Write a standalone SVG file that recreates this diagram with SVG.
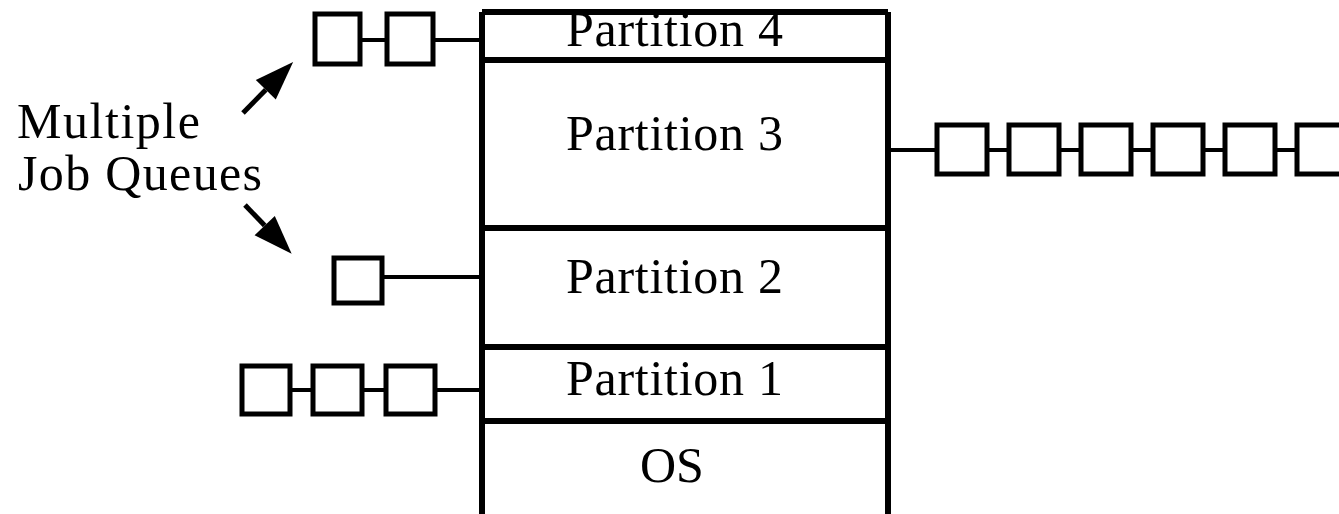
<svg xmlns="http://www.w3.org/2000/svg" width="1339" height="514" viewBox="0 0 1339 514">
<style>
.t{font-family:"Liberation Serif","DejaVu Serif",serif;font-size:50px;fill:#000}
.b{fill:#fff;stroke:#000;stroke-width:5}
.w{stroke:#000;stroke-width:6;fill:none}
.c{stroke:#000;stroke-width:4;fill:none}
.a{stroke:#000;stroke-width:5;fill:none}
</style>
<defs>
<marker id="ah" markerWidth="8" markerHeight="6" refX="0" refY="2.8" orient="auto" markerUnits="strokeWidth" overflow="visible">
<path d="M0,0 L7.8,2.8 L0,5.6 Z" fill="#000"/>
</marker>
</defs>
<rect width="1339" height="514" fill="#fff"/>
<g id="memory">
<path class="w" d="M482,12 H888 M482,12 V514 M888,12 V514 M482,60 H888 M482,228 H888 M482,347 H888 M482,421 H888"/>
</g>
<g id="partition4"><text class="t" x="566" y="46" textLength="217" lengthAdjust="spacing">Partition 4</text></g>
<g id="partition3"><text class="t" x="566" y="150" textLength="217" lengthAdjust="spacing">Partition 3</text></g>
<g id="partition2"><text class="t" x="566" y="293" textLength="217" lengthAdjust="spacing">Partition 2</text></g>
<g id="partition1"><text class="t" x="566" y="395" textLength="217" lengthAdjust="spacing">Partition 1</text></g>
<g id="os"><text class="t" x="640" y="482">OS</text></g>
<g id="label">
<text class="t" x="17" y="138" textLength="183" lengthAdjust="spacing">Multiple</text>
<text class="t" x="18" y="190" textLength="244" lengthAdjust="spacing">Job Queues</text>
</g>
<g id="connectors">
<line class="c" x1="360" y1="40" x2="387" y2="40"/>
<line class="c" x1="433" y1="40" x2="482" y2="40"/>
<line class="c" x1="888" y1="150" x2="937" y2="150"/>
<line class="c" x1="987" y1="150" x2="1009" y2="150"/>
<line class="c" x1="1059" y1="150" x2="1081" y2="150"/>
<line class="c" x1="1131" y1="150" x2="1153" y2="150"/>
<line class="c" x1="1203" y1="150" x2="1225" y2="150"/>
<line class="c" x1="1275" y1="150" x2="1297" y2="150"/>
<line class="c" x1="382" y1="277" x2="482" y2="277"/>
<line class="c" x1="290" y1="390" x2="313" y2="390"/>
<line class="c" x1="362" y1="390" x2="386" y2="390"/>
<line class="c" x1="435" y1="390" x2="482" y2="390"/>
<line class="a" x1="243" y1="113" x2="265.8" y2="89.8" marker-end="url(#ah)"/>
<line class="a" x1="245" y1="205" x2="264.7" y2="225.6" marker-end="url(#ah)"/>
</g>
<g id="queue4">
<rect class="b" x="315" y="14" width="45" height="50"/>
<rect class="b" x="387" y="14" width="46" height="50"/>
</g>
<g id="queue3">
<rect class="b" x="937" y="125" width="50" height="49"/>
<rect class="b" x="1009" y="125" width="50" height="49"/>
<rect class="b" x="1081" y="125" width="50" height="49"/>
<rect class="b" x="1153" y="125" width="50" height="49"/>
<rect class="b" x="1225" y="125" width="50" height="49"/>
<rect class="b" x="1297" y="125" width="50" height="49"/>
</g>
<g id="queue2">
<rect class="b" x="334" y="258" width="48" height="45"/>
</g>
<g id="queue1">
<rect class="b" x="242" y="366" width="48" height="48"/>
<rect class="b" x="313" y="366" width="49" height="48"/>
<rect class="b" x="386" y="366" width="49" height="48"/>
</g>
</svg>
